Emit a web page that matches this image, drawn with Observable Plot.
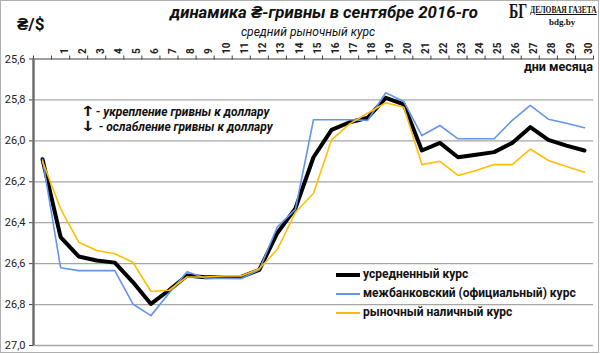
<!DOCTYPE html>
<html>
<head>
<meta charset="utf-8">
<script src="https://cdn.jsdelivr.net/npm/d3@7"></script>
<script src="https://cdn.jsdelivr.net/npm/@observablehq/plot@0.6"></script>
<style>
  body { margin: 0; background: #fff; }
  #wrap { position: relative; width: 600px; height: 354px; font-family: Roboto, "Liberation Sans", sans-serif; color: #111; overflow: hidden; }
  #wrap svg { position: absolute; left: 0; top: 0; }
  .abs { position: absolute; white-space: nowrap; line-height: 1.2; }
  #frame { position: absolute; left: 0; top: 0; width: 597px; height: 351px; border: 1px solid #b0b0b0; }
  .leg { position: absolute; left: 336px; white-space: nowrap; font-weight: bold; font-size: 12px; }
  .sw { display: inline-block; width: 24px; vertical-align: middle; margin-right: 3px; }
  .arr { font-size: 14px; font-style: normal; line-height: 1; font-family: "DejaVu Sans", sans-serif; display: inline-block; transform: scaleX(1.3); margin-right: 2px; }
</style>
</head>
<body>
<div id="wrap">
  <div id="frame"></div>
</div>
<script>
// ---- data ----
const dayLabels = ["", "1", "2", "3", "4", "5", "6", "7", "8", "9", "10", "11", "12", "13", "14", "15",
  "16", "17", "18", "19", "20", "21", "22", "23", "24", "25", "26", "27", "28", "29", "30"];
const avgRate = [26.09, 26.47, 26.565, 26.585, 26.595, 26.69, 26.797, 26.73, 26.658, 26.667, 26.665,
  26.665, 26.63, 26.45, 26.33, 26.08, 25.946, 25.909, 25.887, 25.79, 25.822, 26.047, 26.01, 26.08,
  26.068, 26.055, 26.01, 25.933, 25.995, 26.023, 26.047];
const interbankRate = [26.09, 26.62, 26.634, 26.634, 26.634, 26.797, 26.854, 26.745, 26.64, 26.67, 26.672,
  26.673, 26.63, 26.42, 26.335, 25.897, 25.897, 25.897, 25.90, 25.765, 25.808, 25.974, 25.925, 25.99,
  25.99, 25.99, 25.90, 25.827, 25.894, 25.914, 25.936];
const cashRate = [26.10, 26.332, 26.495, 26.536, 26.552, 26.593, 26.736, 26.73, 26.665, 26.665, 26.66,
  26.66, 26.625, 26.53, 26.35, 26.256, 25.995, 25.917, 25.865, 25.814, 25.836, 26.116, 26.10, 26.169,
  26.145, 26.116, 26.116, 26.04, 26.096, 26.125, 26.153];
const yTicks = [25.6, 25.8, 26.0, 26.2, 26.4, 26.6, 26.8, 27.0];
const seriesNames = ["усредненный курс", "межбанковский (официальный) курс", "рыночный наличный курс"];
const seriesColors = ["#000000", "#6495ed", "#ffbf00"];

const idx = dayLabels.map((_, i) => i);
const boundaries = [...idx.map(i => i - 0.5), dayLabels.length - 0.5];
const labelled = idx.filter(i => dayLabels[i] !== "");
const fmt = d => d.toFixed(1).replace(".", ",");

const chart = Plot.plot({
  width: 600,
  height: 354,
  marginLeft: 33,
  marginRight: 7,
  marginTop: 58.5,
  marginBottom: 9,
  style: { fontFamily: "Roboto, 'Liberation Sans', sans-serif", background: "transparent", overflow: "visible" },
  x: { domain: [-0.5, dayLabels.length - 0.5], axis: null },
  y: { domain: [yTicks[0], yTicks[yTicks.length - 1]], reverse: true, axis: null },
  marks: [
    Plot.ruleY(yTicks.slice(1), { stroke: "#a6a6a6", strokeWidth: 1.3 }),
    Plot.ruleY([yTicks[0]], { stroke: "#404040", strokeWidth: 1.2 }),
    Plot.axisY({ ticks: yTicks, tickFormat: fmt, tickSize: 4, tickPadding: 4, fontSize: 11, label: null, stroke: "#404040", fill: "#222" }),
    Plot.axisX({ anchor: "top", ticks: boundaries, tickSize: 4, tickFormat: () => "", label: null, stroke: "#404040" }),
    Plot.text(labelled, { x: d => d, text: d => dayLabels[d], frameAnchor: "top", rotate: -90, textAnchor: "start", dy: -5, fontSize: 10, fontWeight: "bold", fill: "#222" }),
    Plot.ruleX([-0.5], { stroke: "#6e6e6e", strokeWidth: 2.5 }),
    Plot.line(idx, { x: d => d, y: d => avgRate[d], stroke: seriesColors[0], strokeWidth: 4, strokeLinejoin: "round" }),
    Plot.line(idx, { x: d => d, y: d => interbankRate[d], stroke: seriesColors[1], strokeWidth: 1.6, strokeLinejoin: "round" }),
    Plot.line(idx, { x: d => d, y: d => cashRate[d], stroke: seriesColors[2], strokeWidth: 1.6, strokeLinejoin: "round" })
  ]
});
const wrap = document.getElementById("wrap");
wrap.appendChild(chart);

function addText(html, style) {
  const el = document.createElement("div");
  el.className = "abs";
  el.innerHTML = html;
  Object.assign(el.style, style);
  wrap.appendChild(el);
  return el;
}
addText("₴/$", { left: "17px", top: "14px", fontSize: "17px", fontWeight: "bold" });
addText("динамика ₴-гривны в сентябре 2016-го", { left: "170px", top: "2px", fontSize: "16.8px", fontWeight: "bold", fontStyle: "italic" });
addText("средний рыночный курс", { left: "241px", top: "25px", fontSize: "12px", fontStyle: "italic" });
addText("дни месяца", { right: "7px", top: "59px", fontSize: "12.5px", fontWeight: "bold" });
addText('<span class="arr">↑</span>- укрепление гривны к доллару', { left: "82px", top: "104px", fontSize: "12px", fontWeight: "bold", fontStyle: "italic" });
addText('<span class="arr">↓</span> - ослабление гривны к доллару', { left: "82px", top: "119px", fontSize: "12px", fontWeight: "bold", fontStyle: "italic" });
// logo
addText("БГ", { left: "509px", top: "1px", fontSize: "20px", lineHeight: "1", fontWeight: "bold", fontFamily: "'Liberation Serif', serif", transform: "scaleX(0.7)", transformOrigin: "left" });
addText("ДЕЛОВАЯ ГАЗЕТА", { left: "530px", top: "3px", fontSize: "11px", fontWeight: "bold", fontFamily: "'Liberation Serif', serif", textDecoration: "underline", transform: "scaleX(0.68)", transformOrigin: "left" });
addText("bdg.by", { left: "549px", top: "17px", fontSize: "9px", fontWeight: "bold", fontFamily: "'Liberation Serif', serif" });

// legend
const legTops = [267, 286, 305];
seriesNames.forEach((name, i) => {
  const el = document.createElement("div");
  el.className = "leg";
  el.style.top = legTops[i] + "px";
  const sw = document.createElement("span");
  sw.className = "sw";
  sw.style.height = (i === 0 ? 4 : 2) + "px";
  sw.style.background = seriesColors[i];
  el.appendChild(sw);
  el.appendChild(document.createTextNode(name));
  wrap.appendChild(el);
});
</script>
</body>
</html>
